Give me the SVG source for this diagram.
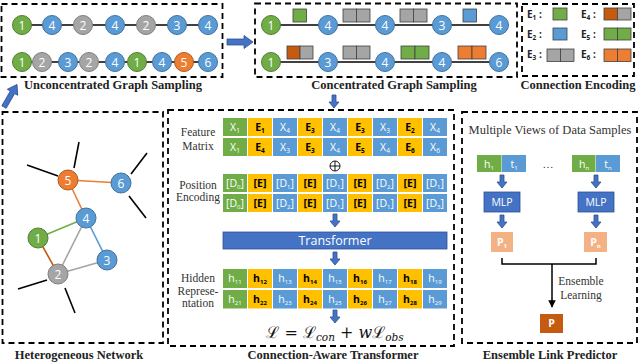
<svg xmlns="http://www.w3.org/2000/svg" width="640" height="363" viewBox="0 0 640 363">
<style>
.box{fill:none;stroke:#000;stroke-width:1.8;stroke-dasharray:6 4}
.ttl{font-family:"Liberation Serif",serif;font-weight:bold;font-size:12.5px;text-anchor:middle;fill:#222}
.lbl{font-family:"Liberation Serif",serif;font-size:11.5px;text-anchor:middle;fill:#333}
.cg{fill:#70AD47;stroke:#507E32;stroke-width:1}
.cb{fill:#5B9BD5;stroke:#41719C;stroke-width:1}
.cy{fill:#A5A5A5;stroke:#7F7F7F;stroke-width:1}
.co{fill:#ED7D31;stroke:#AE5A21;stroke-width:1}
.nt{font-family:"Open Sans","Liberation Sans",sans-serif;font-size:12px;fill:#fff;text-anchor:middle}
.g{fill:#70AD47}.y{fill:#FFC000}.b{fill:#5B9BD5}
.sq{stroke:#404040;stroke-width:0.8}
.sg{fill:#A5A5A5}.sbr{fill:#C55A11}.sor{fill:#ED7D31}
.tw{font-family:"Open Sans","Liberation Sans",sans-serif;font-size:10.5px;fill:#fff;text-anchor:middle}
.tk{font-family:"Open Sans","Liberation Sans",sans-serif;font-size:10.5px;font-weight:bold;fill:#000;text-anchor:middle}
.el{font-family:"Open Sans","Liberation Sans",sans-serif;font-size:10px;font-weight:bold;fill:#222}
.arr{fill:#4472C4;stroke:#2F528F;stroke-width:0.8}
.edge{stroke-width:1.6;fill:none}
.stub{stroke:#000;stroke-width:1.6}
</style>
<defs>
<marker id="ah" viewBox="0 0 10 10" refX="9" refY="5" markerWidth="5" markerHeight="5" orient="auto"><path d="M0,0 L10,5 L0,10 z" fill="#000"/></marker>
<path id="da" d="M-2,0 h4 v7 h3 l-5,6 l-5,-6 h3 z"/>
</defs>

<!-- Unconcentrated Graph Sampling -->
<g id="unconcentrated">
<rect class="box" x="1.5" y="4" width="221" height="73"/>
<line x1="22" y1="25" x2="208" y2="25" stroke="#000" stroke-width="1.5"/>
<line x1="22" y1="62" x2="208" y2="62" stroke="#000" stroke-width="1.5"/>
<circle class="cg" cx="22" cy="25" r="9.5"/><text class="nt" x="22" y="29.5">1</text>
<circle class="cb" cx="52" cy="25" r="9.5"/><text class="nt" x="52" y="29.5">4</text>
<circle class="cy" cx="83" cy="25" r="9.5"/><text class="nt" x="83" y="29.5">2</text>
<circle class="cb" cx="115" cy="25" r="9.5"/><text class="nt" x="115" y="29.5">4</text>
<circle class="cy" cx="146" cy="25" r="9.5"/><text class="nt" x="146" y="29.5">2</text>
<circle class="cb" cx="177" cy="25" r="9.5"/><text class="nt" x="177" y="29.5">3</text>
<circle class="cb" cx="208" cy="25" r="9.5"/><text class="nt" x="208" y="29.5">4</text>
<circle class="cg" cx="22" cy="62" r="9.5"/><text class="nt" x="22" y="66.5">1</text>
<circle class="cy" cx="42" cy="62" r="9.5"/><text class="nt" x="42" y="66.5">2</text>
<circle class="cb" cx="68" cy="62" r="9.5"/><text class="nt" x="68" y="66.5">3</text>
<circle class="cy" cx="89" cy="62" r="9.5"/><text class="nt" x="89" y="66.5">2</text>
<circle class="cb" cx="115" cy="62" r="9.5"/><text class="nt" x="115" y="66.5">4</text>
<circle class="cg" cx="137" cy="62" r="9.5"/><text class="nt" x="137" y="66.5">1</text>
<circle class="cb" cx="162" cy="62" r="9.5"/><text class="nt" x="162" y="66.5">4</text>
<circle class="co" cx="184" cy="62" r="9.5"/><text class="nt" x="184" y="66.5">5</text>
<circle class="cb" cx="208" cy="62" r="9.5"/><text class="nt" x="208" y="66.5">6</text>
<text class="ttl" x="113" y="89">Unconcentrated Graph Sampling</text>
</g>

<!-- Concentrated Graph Sampling -->
<g id="concentrated">
<rect class="box" x="255" y="3.5" width="262" height="73.5"/>
<line x1="271" y1="25" x2="499" y2="25" stroke="#000" stroke-width="1.5"/>
<line x1="271" y1="62" x2="499" y2="62" stroke="#000" stroke-width="1.5"/>
<circle class="cg" cx="271" cy="25" r="9.5"/><text class="nt" x="271" y="29.5">1</text>
<circle class="cb" cx="328" cy="25" r="9.5"/><text class="nt" x="328" y="29.5">4</text>
<circle class="cb" cx="385" cy="25" r="9.5"/><text class="nt" x="385" y="29.5">4</text>
<circle class="cb" cx="442" cy="25" r="9.5"/><text class="nt" x="442" y="29.5">3</text>
<circle class="cb" cx="499" cy="25" r="9.5"/><text class="nt" x="499" y="29.5">4</text>
<circle class="cg" cx="271" cy="62" r="9.5"/><text class="nt" x="271" y="66.5">1</text>
<circle class="cb" cx="328" cy="62" r="9.5"/><text class="nt" x="328" y="66.5">3</text>
<circle class="cb" cx="385" cy="62" r="9.5"/><text class="nt" x="385" y="66.5">4</text>
<circle class="cb" cx="442" cy="62" r="9.5"/><text class="nt" x="442" y="66.5">4</text>
<circle class="cb" cx="499" cy="62" r="9.5"/><text class="nt" x="499" y="66.5">6</text>
<rect class="sq g" x="293" y="9" width="13.5" height="13"/>
<rect class="sq sg" x="343" y="9" width="13.5" height="13"/><rect class="sq sg" x="356.5" y="9" width="13.5" height="13"/>
<rect class="sq sg" x="400" y="9" width="13.5" height="13"/><rect class="sq sg" x="413.5" y="9" width="13.5" height="13"/>
<rect class="sq b" x="463" y="9" width="13.5" height="13"/>
<rect class="sq sbr" x="287" y="46" width="13" height="13"/><rect class="sq sg" x="300" y="46" width="13" height="13"/>
<rect class="sq sg" x="343" y="46" width="13.5" height="13"/><rect class="sq sg" x="356.5" y="46" width="13.5" height="13"/>
<rect class="sq g" x="401" y="46" width="14" height="13"/><rect class="sq g" x="415" y="46" width="14" height="13"/>
<rect class="sq sor" x="458" y="46" width="14" height="13"/><rect class="sq sor" x="472" y="46" width="14" height="13"/>
<text class="ttl" x="394" y="89">Concentrated Graph Sampling</text>
</g>

<!-- Connection Encoding -->
<g id="encoding">
<rect class="box" x="522" y="4" width="112" height="72"/>
<text class="el" x="527" y="18">E<tspan font-size="6.5" dy="2">1</tspan><tspan dy="-2"> :</tspan></text>
<rect class="sq g" x="553" y="8" width="14" height="12"/>
<text class="el" x="581" y="18">E<tspan font-size="6.5" dy="2">4</tspan><tspan dy="-2"> :</tspan></text>
<rect class="sq sbr" x="604" y="8" width="13.5" height="12"/><rect class="sq sg" x="617.5" y="8" width="13.5" height="12"/>
<text class="el" x="527" y="38">E<tspan font-size="6.5" dy="2">2</tspan><tspan dy="-2"> :</tspan></text>
<rect class="sq b" x="553" y="28" width="14" height="12"/>
<text class="el" x="581" y="38">E<tspan font-size="6.5" dy="2">5</tspan><tspan dy="-2"> :</tspan></text>
<rect class="sq g" x="604" y="28" width="13.5" height="12"/><rect class="sq g" x="617.5" y="28" width="13.5" height="12"/>
<text class="el" x="527" y="58">E<tspan font-size="6.5" dy="2">3</tspan><tspan dy="-2"> :</tspan></text>
<rect class="sq sg" x="547" y="49" width="13.5" height="12.5"/><rect class="sq sg" x="560.5" y="49" width="13.5" height="12.5"/>
<text class="el" x="581" y="58">E<tspan font-size="6.5" dy="2">6</tspan><tspan dy="-2"> :</tspan></text>
<rect class="sq sor" x="604" y="49" width="13.5" height="12.5"/><rect class="sq sor" x="617.5" y="49" width="13.5" height="12.5"/>
<text class="ttl" x="578" y="89">Connection Encoding</text>
</g>

<!-- Heterogeneous Network -->
<g id="network">
<rect class="box" x="2.5" y="112" width="160.5" height="231"/>
<line class="stub" x1="79" y1="142" x2="74" y2="168"/>
<line class="stub" x1="27" y1="165" x2="58" y2="176"/>
<line class="stub" x1="147" y1="153" x2="131" y2="174"/>
<line class="stub" x1="129" y1="196" x2="146" y2="218"/>
<line class="stub" x1="18" y1="289" x2="47" y2="280"/>
<line class="stub" x1="65" y1="288" x2="75" y2="313"/>
<line class="edge" stroke="#ED7D31" x1="68" y1="180" x2="121" y2="183"/>
<line class="edge" stroke="#ED7D31" x1="68" y1="180" x2="86" y2="218"/>
<line class="edge" stroke="#70AD47" x1="38" y1="238" x2="86" y2="218"/>
<line class="edge" stroke="#5B9BD5" x1="86" y1="218" x2="107" y2="260"/>
<line class="edge" stroke="#C55A11" x1="38" y1="238" x2="58" y2="274"/>
<line class="edge" stroke="#A5A5A5" x1="86" y1="218" x2="58" y2="274"/>
<line class="edge" stroke="#A5A5A5" x1="58" y1="274" x2="107" y2="260"/>
<circle class="co" cx="68" cy="180" r="10"/><text class="nt" x="68" y="184.5">5</text>
<circle class="cb" cx="121" cy="183" r="10"/><text class="nt" x="121" y="187.5">6</text>
<circle class="cb" cx="86" cy="218" r="10"/><text class="nt" x="86" y="222.5">4</text>
<circle class="cg" cx="38" cy="238" r="10"/><text class="nt" x="38" y="242.5">1</text>
<circle class="cb" cx="107" cy="260" r="10"/><text class="nt" x="107" y="264.5">3</text>
<circle class="cy" cx="58" cy="274" r="10"/><text class="nt" x="58" y="278.5">2</text>
<text class="ttl" x="79" y="359">Heterogeneous Network</text>
</g>

<!-- Connection-Aware Transformer -->
<g id="transformer">
<rect class="box" x="168" y="110" width="286" height="236"/>
<text class="lbl" x="198" y="136">Feature</text>
<text class="lbl" x="198" y="150">Matrix</text>
<text class="lbl" x="198" y="189">Position</text>
<text class="lbl" x="198" y="201">Encoding</text>
<text class="lbl" x="198" y="282">Hidden</text>
<text class="lbl" x="198" y="295">Represe-</text>
<text class="lbl" x="198" y="307">ntation</text>

<!-- feature matrix row 1 -->
<rect class="g" x="223" y="118" width="24" height="18"/><text class="tw" x="235" y="131">X<tspan font-size="6.5" dy="2">1</tspan></text>
<rect class="y" x="248" y="118" width="24" height="18"/><text class="tk" x="260" y="131">E<tspan font-size="6.5" dy="2">1</tspan></text>
<rect class="b" x="273" y="118" width="24" height="18"/><text class="tw" x="285" y="131">X<tspan font-size="6.5" dy="2">4</tspan></text>
<rect class="y" x="298" y="118" width="24" height="18"/><text class="tk" x="310" y="131">E<tspan font-size="6.5" dy="2">3</tspan></text>
<rect class="b" x="323" y="118" width="24" height="18"/><text class="tw" x="335" y="131">X<tspan font-size="6.5" dy="2">4</tspan></text>
<rect class="y" x="348" y="118" width="24" height="18"/><text class="tk" x="360" y="131">E<tspan font-size="6.5" dy="2">3</tspan></text>
<rect class="b" x="373" y="118" width="24" height="18"/><text class="tw" x="385" y="131">X<tspan font-size="6.5" dy="2">3</tspan></text>
<rect class="y" x="398" y="118" width="24" height="18"/><text class="tk" x="410" y="131">E<tspan font-size="6.5" dy="2">2</tspan></text>
<rect class="b" x="423" y="118" width="24" height="18"/><text class="tw" x="435" y="131">X<tspan font-size="6.5" dy="2">4</tspan></text>
<!-- feature matrix row 2 -->
<rect class="g" x="223" y="138" width="24" height="18"/><text class="tw" x="235" y="151">X<tspan font-size="6.5" dy="2">1</tspan></text>
<rect class="y" x="248" y="138" width="24" height="18"/><text class="tk" x="260" y="151">E<tspan font-size="6.5" dy="2">4</tspan></text>
<rect class="b" x="273" y="138" width="24" height="18"/><text class="tw" x="285" y="151">X<tspan font-size="6.5" dy="2">3</tspan></text>
<rect class="y" x="298" y="138" width="24" height="18"/><text class="tk" x="310" y="151">E<tspan font-size="6.5" dy="2">3</tspan></text>
<rect class="b" x="323" y="138" width="24" height="18"/><text class="tw" x="335" y="151">X<tspan font-size="6.5" dy="2">4</tspan></text>
<rect class="y" x="348" y="138" width="24" height="18"/><text class="tk" x="360" y="151">E<tspan font-size="6.5" dy="2">5</tspan></text>
<rect class="b" x="373" y="138" width="24" height="18"/><text class="tw" x="385" y="151">X<tspan font-size="6.5" dy="2">4</tspan></text>
<rect class="y" x="398" y="138" width="24" height="18"/><text class="tk" x="410" y="151">E<tspan font-size="6.5" dy="2">6</tspan></text>
<rect class="b" x="423" y="138" width="24" height="18"/><text class="tw" x="435" y="151">X<tspan font-size="6.5" dy="2">6</tspan></text>

<circle cx="335" cy="166" r="5" fill="#fff" stroke="#000" stroke-width="0.9"/>
<line x1="330" y1="166" x2="340" y2="166" stroke="#000" stroke-width="0.9"/>
<line x1="335" y1="161" x2="335" y2="171" stroke="#000" stroke-width="0.9"/>

<!-- position encoding row 1 -->
<rect class="g" x="223" y="174" width="24" height="18"/><text class="tw" x="235" y="186.5">[D<tspan font-size="6" dy="2">0</tspan><tspan dy="-2">]</tspan></text>
<rect class="y" x="248" y="174" width="24" height="18"/><text class="tk" x="260" y="186.5">[E]</text>
<rect class="b" x="273" y="174" width="24" height="18"/><text class="tw" x="285" y="186.5">[D<tspan font-size="6" dy="2">1</tspan><tspan dy="-2">]</tspan></text>
<rect class="y" x="298" y="174" width="24" height="18"/><text class="tk" x="310" y="186.5">[E]</text>
<rect class="b" x="323" y="174" width="24" height="18"/><text class="tw" x="335" y="186.5">[D<tspan font-size="6" dy="2">1</tspan><tspan dy="-2">]</tspan></text>
<rect class="y" x="348" y="174" width="24" height="18"/><text class="tk" x="360" y="186.5">[E]</text>
<rect class="b" x="373" y="174" width="24" height="18"/><text class="tw" x="385" y="186.5">[D<tspan font-size="6" dy="2">2</tspan><tspan dy="-2">]</tspan></text>
<rect class="y" x="398" y="174" width="24" height="18"/><text class="tk" x="410" y="186.5">[E]</text>
<rect class="b" x="423" y="174" width="24" height="18"/><text class="tw" x="435" y="186.5">[D<tspan font-size="6" dy="2">1</tspan><tspan dy="-2">]</tspan></text>
<!-- position encoding row 2 -->
<rect class="g" x="223" y="194" width="24" height="18"/><text class="tw" x="235" y="206.5">[D<tspan font-size="6" dy="2">0</tspan><tspan dy="-2">]</tspan></text>
<rect class="y" x="248" y="194" width="24" height="18"/><text class="tk" x="260" y="206.5">[E]</text>
<rect class="b" x="273" y="194" width="24" height="18"/><text class="tw" x="285" y="206.5">[D<tspan font-size="6" dy="2">2</tspan><tspan dy="-2">]</tspan></text>
<rect class="y" x="298" y="194" width="24" height="18"/><text class="tk" x="310" y="206.5">[E]</text>
<rect class="b" x="323" y="194" width="24" height="18"/><text class="tw" x="335" y="206.5">[D<tspan font-size="6" dy="2">1</tspan><tspan dy="-2">]</tspan></text>
<rect class="y" x="348" y="194" width="24" height="18"/><text class="tk" x="360" y="206.5">[E]</text>
<rect class="b" x="373" y="194" width="24" height="18"/><text class="tw" x="385" y="206.5">[D<tspan font-size="6" dy="2">1</tspan><tspan dy="-2">]</tspan></text>
<rect class="y" x="398" y="194" width="24" height="18"/><text class="tk" x="410" y="206.5">[E]</text>
<rect class="b" x="423" y="194" width="24" height="18"/><text class="tw" x="435" y="206.5">[D<tspan font-size="6" dy="2">3</tspan><tspan dy="-2">]</tspan></text>

<rect x="223" y="232" width="224" height="17" fill="#4472C4" stroke="#2F528F" stroke-width="0.8"/>
<text x="335" y="245" font-family="'Open Sans','Liberation Sans',sans-serif" font-size="12.5" fill="#fff" text-anchor="middle">Transformer</text>

<!-- hidden row 1 -->
<rect class="g" x="223" y="269" width="24" height="19"/><text class="tw" x="235" y="282">h<tspan font-size="6" dy="2">11</tspan></text>
<rect class="y" x="248" y="269" width="24" height="19"/><text class="tk" x="260" y="282">h<tspan font-size="6" dy="2">12</tspan></text>
<rect class="b" x="273" y="269" width="24" height="19"/><text class="tw" x="285" y="282">h<tspan font-size="6" dy="2">13</tspan></text>
<rect class="y" x="298" y="269" width="24" height="19"/><text class="tk" x="310" y="282">h<tspan font-size="6" dy="2">14</tspan></text>
<rect class="b" x="323" y="269" width="24" height="19"/><text class="tw" x="335" y="282">h<tspan font-size="6" dy="2">15</tspan></text>
<rect class="y" x="348" y="269" width="24" height="19"/><text class="tk" x="360" y="282">h<tspan font-size="6" dy="2">16</tspan></text>
<rect class="b" x="373" y="269" width="24" height="19"/><text class="tw" x="385" y="282">h<tspan font-size="6" dy="2">17</tspan></text>
<rect class="y" x="398" y="269" width="24" height="19"/><text class="tk" x="410" y="282">h<tspan font-size="6" dy="2">18</tspan></text>
<rect class="b" x="423" y="269" width="24" height="19"/><text class="tw" x="435" y="282">h<tspan font-size="6" dy="2">19</tspan></text>
<!-- hidden row 2 -->
<rect class="g" x="223" y="290" width="24" height="18.5"/><text class="tw" x="235" y="302.5">h<tspan font-size="6" dy="2">21</tspan></text>
<rect class="y" x="248" y="290" width="24" height="18.5"/><text class="tk" x="260" y="302.5">h<tspan font-size="6" dy="2">22</tspan></text>
<rect class="b" x="273" y="290" width="24" height="18.5"/><text class="tw" x="285" y="302.5">h<tspan font-size="6" dy="2">23</tspan></text>
<rect class="y" x="298" y="290" width="24" height="18.5"/><text class="tk" x="310" y="302.5">h<tspan font-size="6" dy="2">24</tspan></text>
<rect class="b" x="323" y="290" width="24" height="18.5"/><text class="tw" x="335" y="302.5">h<tspan font-size="6" dy="2">25</tspan></text>
<rect class="y" x="348" y="290" width="24" height="18.5"/><text class="tk" x="360" y="302.5">h<tspan font-size="6" dy="2">26</tspan></text>
<rect class="b" x="373" y="290" width="24" height="18.5"/><text class="tw" x="385" y="302.5">h<tspan font-size="6" dy="2">27</tspan></text>
<rect class="y" x="398" y="290" width="24" height="18.5"/><text class="tk" x="410" y="302.5">h<tspan font-size="6" dy="2">28</tspan></text>
<rect class="b" x="423" y="290" width="24" height="18.5"/><text class="tw" x="435" y="302.5">h<tspan font-size="6" dy="2">29</tspan></text>

<text x="335" y="338" font-family="'DejaVu Serif','Liberation Serif',serif" font-size="16" fill="#111" text-anchor="middle">ℒ = ℒ<tspan font-style="italic" font-size="10.5" dy="3">con</tspan><tspan dy="-3"> + </tspan><tspan font-style="italic">w</tspan>ℒ<tspan font-style="italic" font-size="10.5" dy="3">obs</tspan></text>
<text class="ttl" x="333" y="359">Connection-Aware Transformer</text>
</g>

<!-- Ensemble Link Predictor -->
<g id="ensemble">
<rect class="box" x="462" y="112" width="175" height="231"/>
<text x="550" y="134" font-family="'Liberation Serif',serif" font-size="12.5" fill="#333" text-anchor="middle">Multiple Views of Data Samples</text>
<rect class="g" x="477" y="155" width="24.5" height="17"/><text class="tw" x="489" y="167.5">h<tspan font-size="6" dy="2">1</tspan></text>
<rect class="b" x="502" y="155" width="24" height="17"/><text class="tw" x="514" y="167.5">t<tspan font-size="6" dy="2">1</tspan></text>
<text x="548" y="168" font-family="'Liberation Serif',serif" font-size="11" fill="#333" text-anchor="middle">…</text>
<rect class="g" x="572" y="155" width="23.5" height="17"/><text class="tw" x="584" y="167.5">h<tspan font-size="6" dy="2">n</tspan></text>
<rect class="b" x="596" y="155" width="24" height="17"/><text class="tw" x="608" y="167.5">t<tspan font-size="6" dy="2">n</tspan></text>
<rect x="484" y="192" width="36" height="20" fill="#4472C4" stroke="#2F528F" stroke-width="0.8"/>
<text class="tw" x="502" y="205.5">MLP</text>
<rect x="578" y="192" width="36" height="20" fill="#4472C4" stroke="#2F528F" stroke-width="0.8"/>
<text class="tw" x="596" y="205.5">MLP</text>
<rect x="491" y="232" width="22" height="20" fill="#F4B183"/>
<text class="tw" x="502" y="245.5" font-weight="bold">P<tspan font-size="6" dy="2">1</tspan></text>
<rect x="584" y="232" width="23" height="20" fill="#F4B183"/>
<text class="tw" x="595.5" y="245.5" font-weight="bold">P<tspan font-size="6" dy="2">n</tspan></text>
<path d="M502,258 V264 H596 V258" fill="none" stroke="#000" stroke-width="1.5"/>
<text class="lbl" x="581" y="285">Ensemble</text>
<text class="lbl" x="581" y="299">Learning</text>
<rect x="540" y="314" width="23" height="19" fill="#C55A11"/>
<text class="tw" x="551.5" y="327" font-weight="bold" font-size="9">P</text>
<text class="ttl" x="550" y="359">Ensemble Link Predictor</text>
</g>

<!-- connectors -->
<g id="connectors">
<path class="arr" transform="translate(4,107) rotate(-60)" d="M0,-2.5 H17 V-6 L26,0 L17,6 V2.5 H0 Z"/>
<path class="arr" d="M227,39 H244 V35.5 L253,42 L244,48.5 V45 H227 Z"/>
<use href="#da" class="arr" transform="translate(334,95)"/>
<use href="#da" class="arr" transform="translate(335,214)"/>
<use href="#da" class="arr" transform="translate(335,252)"/>
<use href="#da" class="arr" transform="translate(335,310)"/>
<use href="#da" class="arr" transform="translate(502,175)"/>
<use href="#da" class="arr" transform="translate(596,175)"/>
<use href="#da" class="arr" transform="translate(502,215)"/>
<use href="#da" class="arr" transform="translate(596,215)"/>
<line x1="552" y1="264" x2="552" y2="307" stroke="#000" stroke-width="1.5" marker-end="url(#ah)"/>
</g>
</svg>
